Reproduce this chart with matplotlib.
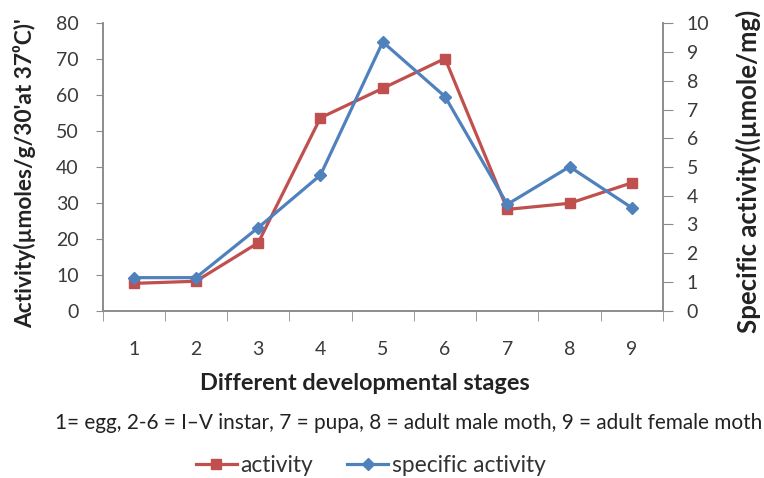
import matplotlib
matplotlib.use("Agg")
import matplotlib.pyplot as plt
from matplotlib.ticker import FixedLocator

stages = [1, 2, 3, 4, 5, 6, 7, 8, 9]
stage_labels = ["1", "2", "3", "4", "5", "6", "7", "8", "9"]
activity = [7.6, 8.2, 18.9, 53.7, 61.9, 70.2, 28.2, 29.9, 35.6]
specific_activity = [1.15, 1.15, 2.89, 4.72, 9.35, 7.45, 3.70, 5.01, 3.58]
left_ticks = [0, 10, 20, 30, 40, 50, 60, 70, 80]
right_ticks = [0, 1, 2, 3, 4, 5, 6, 7, 8, 9, 10]

plt.rcParams["font.family"] = ["Lato", "DejaVu Sans"]

RED = "#C0504D"
BLUE = "#4F81BD"
SPINE = "#8C8C8C"
TXT = "#3A3A3A"
W, H = 764, 478

fig = plt.figure(figsize=(7.64, 4.78), dpi=100)
x0, x1, ytop, ybot = 102.5, 663, 23.3, 310.7
ax = fig.add_axes([x0 / W, 1 - ybot / H, (x1 - x0) / W, (ybot - ytop) / H])
ax2 = ax.twinx()

ax.plot(stages, activity, color=RED, lw=2.3, marker="s", ms=7, zorder=3, label="activity")
ax2.plot(stages, specific_activity, color=BLUE, lw=2.3, marker="D", ms=6.5, zorder=4,
         label="specific activity")

ax.set_xlim(0.5, 9.5)
ax.set_ylim(0, 80)
ax2.set_ylim(0, 10)
ax.set_yticks(left_ticks)
ax2.set_yticks(right_ticks)
ax.set_xticks(stages)
ax.set_xticklabels(stage_labels)
ax.xaxis.set_minor_locator(FixedLocator([s - 0.5 for s in stages] + [9.5]))
ax.tick_params(axis="x", which="major", length=0, pad=22, labelsize=14, labelcolor=TXT)
ax.tick_params(axis="x", which="minor", length=7, color=SPINE, direction="out")
ax.tick_params(axis="y", length=5, color=SPINE, labelsize=14, labelcolor=TXT, pad=12)
ax2.tick_params(axis="y", length=7, color=SPINE, labelsize=14, labelcolor=TXT, pad=10)

for a in (ax, ax2):
    a.spines["top"].set_visible(False)
    for s in ("left", "right", "bottom"):
        a.spines[s].set_color(SPINE)
        a.spines[s].set_linewidth(1.2)

ylab_l = fig.text(25 / W, 1 - 173 / H, "Activity(µmoles/g/30'at 37⁰C)'", rotation=90,
                  ha="center", va="center", fontsize=13, fontweight="bold", color="#222222")
ylab_r = fig.text(748 / W, 1 - 171.5 / H, "Specific activity((µmole/mg)", rotation=90,
                  ha="center", va="center", fontsize=13, fontweight="bold", color="#222222")
xlab = fig.text(365 / W, 1 - 384 / H, "Different developmental stages", ha="center", va="center",
                fontsize=13, fontweight="bold", color="#222222")
note = fig.text(409 / W, 1 - 423 / H,
                "1= egg, 2-6 = I–V instar, 7 = pupa, 8 = adult male moth, 9 = adult female moth",
                ha="center", va="center", fontsize=13, color="#222222")

fig.canvas.draw()
r = fig.canvas.get_renderer()


def fit(t, target, vertical=False):
    bb = t.get_window_extent(r)
    cur = bb.height if vertical else bb.width
    t.set_fontsize(t.get_fontsize() * target / cur)


fit(ylab_l, 310, vertical=True)
fit(ylab_r, 323, vertical=True)
fit(xlab, 329)
fit(note, 706)

probe = fig.text(0, 0, "specific activity", fontsize=13)
pw = probe.get_window_extent(r).width
leg_fs = 13 * 154 / pw
probe.remove()
em = leg_fs * 100 / 72

h1, l1 = ax.get_legend_handles_labels()
h2, l2 = ax2.get_legend_handles_labels()
fig.legend(h1 + h2, l1 + l2, loc="center", bbox_to_anchor=(371 / W, 1 - 465 / H), ncol=2,
           frameon=False, fontsize=leg_fs, handlelength=41 / em, columnspacing=34 / em,
           handletextpad=4 / em, labelcolor="#333333")

fig.savefig("out.png", dpi=100)
